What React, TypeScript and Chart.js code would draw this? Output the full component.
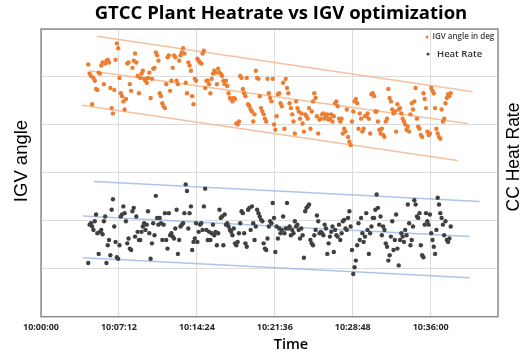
import React, { useEffect, useRef } from 'react';
import { Chart, registerables } from 'chart.js';

Chart.register(...registerables);

const TITLE = 'GTCC Plant Heatrate vs IGV optimization';
const X_TITLE = 'Time';
const Y_LEFT_TITLE = 'IGV angle';
const Y_RIGHT_TITLE = 'CC Heat Rate';
const LEGEND_LABELS = ['IGV angle in deg', 'Heat Rate'];

// time axis: seconds after 10:00:00
const START_HOUR = 10;
const X_MIN_S = 0;
const X_MAX_S = 2533;
const X_TICKS_S = [0, 432, 864, 1296, 1728, 2160]; // 10:00:00 ... 10:36:00
const SAMPLE_START_S = 262; // first logged sample
const SAMPLE_INTERVAL_S = 7.2; // logging interval

const Y_MIN = 0;
const Y_MAX = 6;

const igvAngle = [
  5.26, 5.07, 5.02, 4.43, 4.98, 4.92, 4.75, 4.73, 5.09, 5.07, 5.24, 5.30, 4.85, 5.28, 5.34, 5.36, 5.30, 4.77, 4.35, 4.24,
  4.73, 5.36, 5.70, 5.60, 4.98, 4.66, 4.60, 4.49, 4.32, 4.54, 5.28, 5.30, 4.85, 4.71, 5.19, 5.34, 5.49, 5.30, 5.02, 4.66,
  4.98, 5.07, 5.13, 4.96, 4.92, 4.88, 4.98, 5.09, 4.56, 4.96, 5.17, 5.19, 5.51, 5.45, 5.34, 4.66, 4.60, 4.45, 4.39, 4.35,
  4.85, 5.41, 5.45, 4.71, 4.92, 5.19, 5.45, 5.41, 4.92, 4.85, 5.34, 5.45, 5.51, 5.60, 5.49, 4.88, 4.66, 5.30, 5.24, 5.13,
  4.60, 4.43, 4.96, 4.92, 5.38, 5.34, 5.30, 5.28, 5.49, 5.55, 4.77, 4.92, 4.92, 4.85, 4.66, 4.96, 5.07, 5.13, 5.09, 4.85,
  5.17, 5.09, 5.07, 5.02, 4.92, 4.85, 4.92, 4.81, 4.66, 4.56, 4.54, 4.49, 4.56, 4.54, 4.03, 4.01, 4.07, 5.02, 4.98, 4.75,
  4.66, 4.60, 4.98, 4.43, 4.39, 4.32, 4.28, 4.07, 4.22, 5.13, 4.98, 4.96, 4.60, 4.35, 4.28, 4.22, 4.13, 4.07, 4.96, 4.66,
  4.56, 4.49, 4.96, 4.01, 3.90, 4.18, 4.64, 4.66, 4.45, 4.39, 4.88, 3.92, 4.96, 4.77, 4.66, 4.45, 4.35, 4.22, 4.07, 3.82,
  4.49, 4.35, 4.28, 4.13, 4.24, 4.03, 3.86, 4.22, 4.18, 4.13, 4.35, 3.92, 4.28, 4.49, 4.66, 4.56, 4.18, 3.82, 4.11, 4.13,
  4.22, 4.24, 4.13, 4.18, 4.22, 4.11, 4.13, 4.22, 4.07, 4.18, 4.45, 4.49, 4.39, 4.13, 4.07, 4.13, 3.82, 3.92, 3.86, 4.32,
  3.75, 3.65, 3.58, 4.07, 4.28, 4.49, 4.54, 4.45, 3.92, 4.24, 4.13, 3.86, 3.92, 4.18, 4.18, 4.24, 4.13, 3.82, 4.64, 4.66,
  4.60, 4.28, 4.28, 4.07, 3.90, 3.82, 3.92, 3.79, 3.75, 4.07, 4.13, 4.75, 4.56, 4.49, 4.32, 4.24, 4.28, 3.86, 4.43, 4.32,
  4.35, 4.24, 4.13, 4.07, 4.01, 3.90, 3.96, 3.86, 4.22, 4.45, 4.32, 4.49, 4.77, 4.13, 3.96, 3.92, 3.79, 3.75, 4.66, 4.54,
  4.35, 3.86, 3.79, 3.82, 4.77, 4.71, 4.66, 4.35, 3.92, 3.82, 3.75, 3.71, 4.32, 4.07, 4.13, 4.45, 4.56, 4.64, 4.60, 4.66,
];

const heatRate = [
  1.12, 1.92, 1.95, 1.88, 1.81, 1.99, 2.13, 1.74, 1.31, 1.77, 1.81, 1.72, 1.99, 2.09, 1.12, 1.49, 1.60, 1.28, 2.23, 2.45,
  1.88, 1.56, 1.24, 1.21, 1.49, 2.09, 2.13, 2.30, 2.16, 1.99, 1.53, 1.63, 1.42, 1.39, 2.20, 2.27, 1.67, 2.09, 1.77, 1.60,
  1.60, 1.77, 1.88, 1.95, 1.81, 1.92, 2.20, 1.74, 1.21, 1.53, 1.95, 1.70, 2.52, 2.06, 1.92, 2.06, 1.95, 1.60, 1.92, 2.16,
  1.60, 1.42, 2.16, 1.70, 1.74, 1.67, 1.63, 1.84, 2.23, 1.31, 1.60, 1.88, 1.92, 1.95, 2.16, 2.76, 2.62, 1.84, 2.16, 2.30,
  1.39, 1.56, 1.63, 1.95, 1.56, 1.77, 1.92, 1.95, 1.81, 2.30, 2.67, 1.81, 1.60, 1.77, 1.60, 1.74, 1.92, 1.70, 1.77, 1.49,
  1.74, 2.23, 2.06, 2.09, 1.49, 2.13, 1.92, 1.95, 1.88, 1.81, 1.77, 1.70, 1.84, 1.53, 1.49, 1.56, 1.74, 1.95, 2.20, 2.16,
  1.74, 1.53, 1.46, 2.23, 2.27, 1.81, 2.30, 1.95, 1.60, 1.88, 2.23, 2.16, 2.09, 2.02, 1.99, 1.53, 1.42, 1.39, 1.63, 1.88,
  1.99, 1.95, 2.37, 2.06, 1.35, 1.88, 1.63, 1.84, 1.74, 1.81, 2.09, 1.74, 1.84, 2.37, 1.84, 1.88, 1.70, 1.81, 1.74, 1.99,
  1.88, 1.92, 1.81, 1.63, 1.84, 1.70, 1.23, 2.20, 2.27, 2.30, 2.34, 1.60, 1.53, 1.49, 1.70, 1.81, 2.11, 1.99, 1.74, 1.77,
  1.74, 1.70, 1.92, 1.84, 1.31, 1.53, 1.67, 1.77, 1.88, 1.35, 1.81, 1.70, 1.67, 1.92, 1.60, 1.74, 1.99, 2.02, 1.84, 1.81,
  2.06, 2.20, 1.88, 1.39, 0.89, 1.03, 1.17, 1.49, 1.95, 1.60, 2.06, 1.74, 1.56, 1.67, 2.16, 1.81, 1.31, 1.74, 1.88, 2.06,
  2.06, 2.23, 2.55, 2.27, 1.92, 2.09, 1.70, 1.88, 1.81, 1.53, 1.46, 1.17, 1.28, 1.67, 1.99, 1.39, 1.60, 2.13, 1.42, 1.07,
  1.60, 1.74, 1.67, 1.56, 1.81, 1.70, 2.34, 1.95, 1.49, 1.60, 1.88, 2.43, 2.34, 2.09, 2.06, 2.16, 1.49, 1.28, 1.24, 1.92,
  2.16, 1.99, 1.92, 2.13, 1.74, 1.60, 1.46, 1.31, 1.81, 2.48, 2.34, 2.16, 2.06, 1.92, 1.70, 1.99, 1.60, 1.56, 1.63, 1.88,
];

// band lines drawn on the chart: [time s, value]
const igvBandUpper = [{ x: 310, y: 5.85 }, { x: 2392, y: 4.69 }];
const igvBandMiddle = [{ x: 266, y: 5.13 }, { x: 2365, y: 4.03 }];
const igvBandLower = [{ x: 227, y: 4.41 }, { x: 2309, y: 3.26 }];
const hrBandUpper = [{ x: 294, y: 2.82 }, { x: 2431, y: 2.40 }];
const hrBandMiddle = [{ x: 233, y: 2.10 }, { x: 2376, y: 1.67 }];
const hrBandLower = [{ x: 233, y: 1.23 }, { x: 2376, y: 0.81 }];

const ORANGE = '#ED7D31';
const DARK = '#404040';
const ORANGE_BAND = 'rgba(244,177,131,0.8)';
const BLUE_BAND = 'rgba(160,186,228,0.85)';

const fmtTime = (s: number) => {
  const t = Math.round(s);
  const h = START_HOUR + Math.floor(t / 3600);
  const m = Math.floor((t % 3600) / 60);
  const sec = t % 60;
  return `${h}:${String(m).padStart(2, '0')}:${String(sec).padStart(2, '0')}`;
};

const decorPlugin = {
  id: 'decor',
  beforeDraw(chart: any) {
    const { ctx, width, height } = chart;
    ctx.save();
    ctx.fillStyle = '#ffffff';
    ctx.fillRect(0, 0, width, height);
    ctx.restore();
  },
  afterDraw(chart: any) {
    const { ctx, chartArea: a } = chart;
    ctx.save();
    // plot frame
    ctx.strokeStyle = '#8c8c8c';
    ctx.lineWidth = 1.5;
    ctx.strokeRect(a.left, a.top, a.right - a.left, a.bottom - a.top);

    // main title
    ctx.fillStyle = '#000000';
    ctx.textAlign = 'center';
    ctx.textBaseline = 'alphabetic';
    ctx.font = '700 18.5px "Open Sans"';
    ctx.fillText(TITLE, 281, 18.5);

    // x title
    ctx.font = '600 14.5px "Open Sans"';
    ctx.fillText(X_TITLE, 291, 349);

    // left title
    ctx.textBaseline = 'middle';
    ctx.font = '18.5px "Liberation Sans"';
    ctx.save();
    ctx.translate(22, 161);
    ctx.rotate(-Math.PI / 2);
    ctx.fillText(Y_LEFT_TITLE, 0, 0);
    ctx.restore();

    // right title
    ctx.font = '17.5px "Liberation Sans"';
    ctx.save();
    ctx.translate(514, 157);
    ctx.rotate(-Math.PI / 2);
    ctx.fillText(Y_RIGHT_TITLE, 0, 0);
    ctx.restore();

    // legend
    ctx.textAlign = 'left';
    ctx.fillStyle = ORANGE;
    ctx.beginPath();
    ctx.arc(427, 37, 1.5, 0, Math.PI * 2);
    ctx.fill();
    ctx.fillStyle = '#404040';
    ctx.font = '600 8px "Open Sans"';
    ctx.fillText(LEGEND_LABELS[0], 432.5, 37);

    ctx.fillStyle = DARK;
    ctx.beginPath();
    ctx.arc(428, 54, 1.5, 0, Math.PI * 2);
    ctx.fill();
    ctx.fillStyle = '#333333';
    ctx.font = '600 9.5px "Open Sans"';
    ctx.fillText(LEGEND_LABELS[1], 437, 54);
    ctx.restore();
  },
};

export default function App() {
  const ref = useRef<HTMLCanvasElement | null>(null);

  useEffect(() => {
    if (!ref.current) return;
    const toPoints = (vals: number[]) =>
      vals.map((y, i) => ({ x: SAMPLE_START_S + i * SAMPLE_INTERVAL_S, y }));

    const band = (data: any[], color: string) => ({
      data,
      showLine: true,
      borderColor: color,
      borderWidth: 1.5,
      pointRadius: 0,
      fill: false,
    });

    const chart = new Chart(ref.current, {
      type: 'scatter',
      data: {
        datasets: [
          {
            label: LEGEND_LABELS[0],
            data: toPoints(igvAngle),
            backgroundColor: ORANGE,
            borderWidth: 0,
            pointRadius: 2.2,
          },
          {
            label: LEGEND_LABELS[1],
            data: toPoints(heatRate),
            backgroundColor: DARK,
            borderWidth: 0,
            pointRadius: 2.2,
          },
          band(igvBandUpper, ORANGE_BAND),
          band(igvBandMiddle, ORANGE_BAND),
          band(igvBandLower, ORANGE_BAND),
          band(hrBandUpper, BLUE_BAND),
          band(hrBandMiddle, BLUE_BAND),
          band(hrBandLower, BLUE_BAND),
        ] as any,
      },
      options: {
        responsive: false,
        animation: false,
        devicePixelRatio: 1,
        events: [],
        layout: { padding: { left: 41, right: 33, top: 29, bottom: 14.5 } },
        plugins: { legend: { display: false }, tooltip: { enabled: false }, title: { display: false } },
        scales: {
          x: {
            type: 'linear',
            min: X_MIN_S,
            max: X_MAX_S,
            border: { display: false },
            grid: { color: '#dcdcdc', lineWidth: 1, drawTicks: false },
            afterBuildTicks: (scale: any) => {
              scale.ticks = X_TICKS_S.map((value) => ({ value }));
            },
            ticks: {
              autoSkip: false,
              maxRotation: 0,
              padding: 5.5,
              color: '#262626',
              font: { family: 'Open Sans', weight: 'bold', size: 9 },
              callback: (v: any) => fmtTime(Number(v)),
            },
          },
          y: {
            min: Y_MIN,
            max: Y_MAX,
            border: { display: false },
            grid: { color: '#dcdcdc', lineWidth: 1, drawTicks: false },
            ticks: { display: false, stepSize: 1 },
          },
        },
      } as any,
      plugins: [decorPlugin],
    });
    return () => chart.destroy();
  }, []);

  return (
    <div style={{ position: 'fixed', left: 0, top: 0, width: 531, height: 353, background: '#fff' }}>
      <canvas ref={ref} width={531} height={353} style={{ display: 'block' }} />
    </div>
  );
}
